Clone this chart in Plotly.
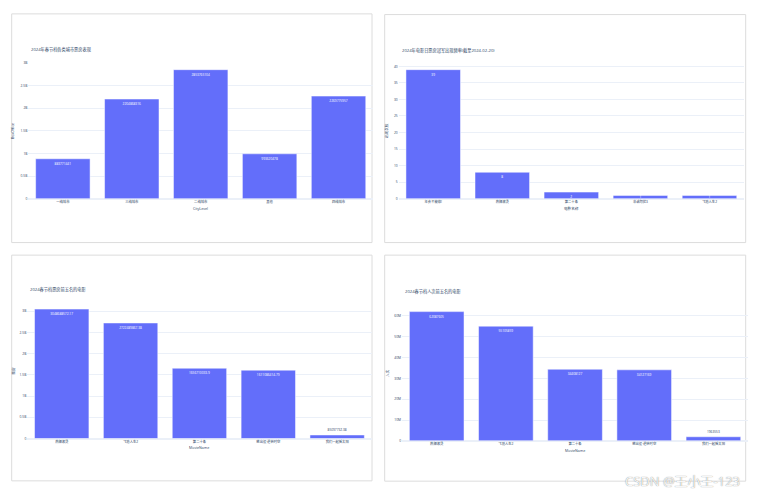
import plotly.graph_objects as go

W, H = 757, 497

# chart 1: box office by city tier
city_levels = ["一线城市", "三线城市", "二线城市", "其他", "四线城市"]
city_boxoffice = [883771441, 2204868316, 2853765104, 993620478, 2269775957]

# chart 2: daily box office champion frequency
champ_movies = ["年会不能停!", "热辣滚烫", "第二十条", "非诚勿扰3", "飞驰人生2"]
champ_counts = [39, 8, 2, 1, 1]

# chart 3 / 4: top five movies
top_movies = ["热辣滚烫", "飞驰人生2", "第二十条", "熊出没·逆转时空", "我们一起摇太阳"]
top_boxoffice = [3048688572.17, 2722489867.38, 1656710033.9, 1611086414.79, 85097732.38]
top_viewers = [62087605, 55105859, 34408127, 34127169, 1963553]

FONT = "Open Sans, Noto Sans CJK SC, sans-serif"
BAR = "#636efa"


def px_x(v):
    return v / W


def px_y(v):
    return 1 - v / H


# pixel positions of box, plot area, titles
panels = [
    dict(box=(11.7, 372, 11, 242), plot=(28.4, 373, 60.5, 197.7), rng=3.004e9, dtick=0.5e9,
         title="2024年春节档各类城市票房表现", title_xy=(29, 47.3),
         xt="CityLevel", xt_y=207.3, yt="BoxOffice", yt_x=13.3,
         x=city_levels, y=city_boxoffice, tpos="auto"),
    dict(box=(384.7, 745.7, 11.7, 242), plot=(398.7, 744, 60.5, 197.7), rng=41.05, dtick=5,
         title="2024年电影日票房冠军出现频率(截至2024-02-20)", title_xy=(400, 47.7),
         xt="电影名称", xt_y=207.3, yt="出现次数", yt_x=387.3,
         x=champ_movies, y=champ_counts, tpos="inside"),
    dict(box=(11.7, 372, 254.7, 482.7), plot=(27.3, 371.6, 302.3, 440), rng=3.21e9, dtick=0.5e9,
         title="2024春节档票房前五名的电影", title_xy=(28.3, 289.7),
         xt="MovieName", xt_y=449.3, yt="票房", yt_x=13.3,
         x=top_movies, y=top_boxoffice, tpos="auto"),
    dict(box=(384.7, 745.7, 254.7, 483), plot=(402.1, 748, 304.8, 442.3), rng=65.4e6, dtick=10e6,
         title="2024春节档人次前五名的电影", title_xy=(402.7, 291.7),
         xt="MovieName", xt_y=452, yt="人次", yt_x=387.3,
         x=top_movies, y=top_viewers, tpos="auto"),
]

fig = go.Figure()
shapes = []
annotations = []
layout_axes = {}

for i, p in enumerate(panels, start=1):
    sfx = "" if i == 1 else str(i)
    x0, x1, yt, yb = p["plot"]
    fig.add_trace(go.Bar(
        x=p["x"], y=p["y"], text=[str(v) for v in p["y"]],
        textposition=p["tpos"], textangle=0,
        insidetextfont=dict(size=3.2, color="white", family=FONT),
        outsidetextfont=dict(size=3.2, color="#2a3f5f", family=FONT),
        marker_color=BAR, showlegend=False,
        xaxis="x" + sfx, yaxis="y" + sfx,
    ))
    layout_axes["xaxis" + sfx] = dict(
        domain=[px_x(x0), px_x(x1)], anchor="y" + sfx,
        tickfont=dict(size=3.3, family=FONT), ticklen=0, showgrid=False,
    )
    layout_axes["yaxis" + sfx] = dict(
        domain=[px_y(yb), px_y(yt)], anchor="x" + sfx,
        range=[0, p["rng"]], dtick=p["dtick"], tick0=0,
        tickfont=dict(size=3.3, family=FONT), ticklen=0,
        gridcolor="#EBF0F8", zerolinecolor="#EBF0F8",
    )
    bx0, bx1, by0, by1 = p["box"]
    shapes.append(dict(type="rect", xref="paper", yref="paper",
                       x0=px_x(bx0), x1=px_x(bx1), y0=px_y(by1), y1=px_y(by0),
                       line=dict(color="#dcdcdc", width=1), fillcolor="rgba(0,0,0,0)",
                       layer="below"))
    tx, ty = p["title_xy"]
    annotations.append(dict(text=p["title"], x=px_x(tx), y=px_y(ty), xref="paper", yref="paper",
                            xanchor="left", yanchor="middle", showarrow=False,
                            font=dict(size=4.2, color="#2a3f5f", family=FONT)))
    annotations.append(dict(text=p["xt"], x=px_x((x0 + x1) / 2), y=px_y(p["xt_y"]),
                            xref="paper", yref="paper", xanchor="center", yanchor="middle",
                            showarrow=False, font=dict(size=3.6, color="#2a3f5f", family=FONT)))
    annotations.append(dict(text=p["yt"], x=px_x(p["yt_x"]), y=px_y((yt + yb) / 2),
                            xref="paper", yref="paper", xanchor="center", yanchor="middle",
                            textangle=-90, showarrow=False,
                            font=dict(size=3.6, color="#2a3f5f", family=FONT)))

annotations.append(dict(text="CSDN @王小王-123", x=px_x(742), y=px_y(483), xref="paper", yref="paper",
                        xanchor="right", yanchor="middle", showarrow=False,
                        font=dict(size=13, color="rgba(255,255,255,0.95)", family=FONT,
                                  shadow="0px 0px 1px #666")))

fig.update_layout(
    width=W, height=H, template="plotly_white",
    margin=dict(l=0, r=0, t=0, b=0),
    paper_bgcolor="white", plot_bgcolor="white",
    bargap=0.21, shapes=shapes, annotations=annotations,
    uniformtext=dict(minsize=3.2, mode="show"),
    font=dict(family=FONT), **layout_axes,
)

# page body has a default 8px margin; drop it so the figure sits at 0,0
fig.write_html("out.html", config={"displayModeBar": False},
               post_script="document.body.style.margin='0';")
